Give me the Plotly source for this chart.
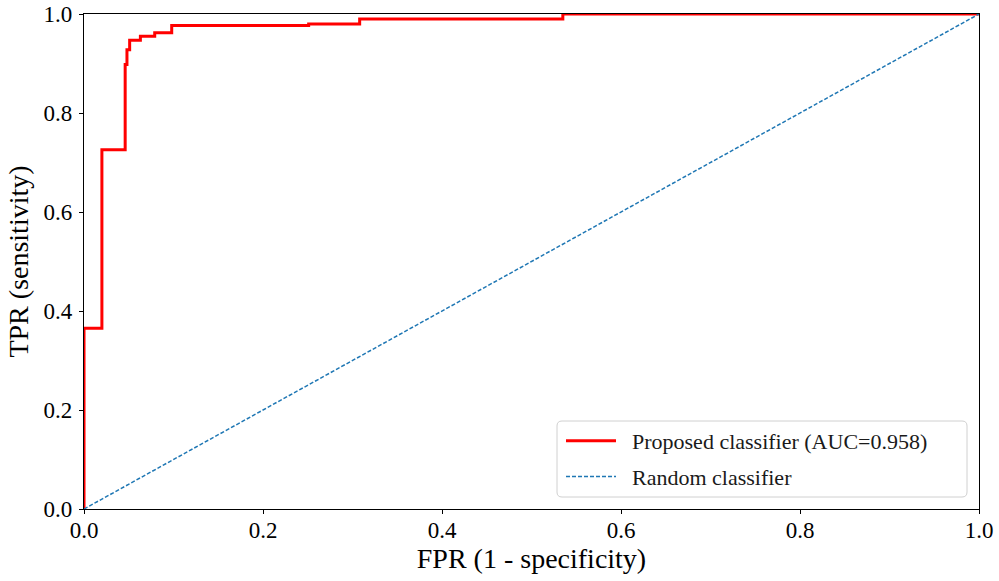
import plotly.graph_objects as go

# ROC curve corner points of the proposed classifier
fpr = [0.0, 0.0, 0.020, 0.020, 0.046, 0.046, 0.048, 0.048, 0.051, 0.051,
       0.063, 0.063, 0.079, 0.079, 0.098, 0.098, 0.251, 0.251, 0.308, 0.308,
       0.535, 0.535, 1.0]
tpr = [0.0, 0.365, 0.365, 0.726, 0.726, 0.898, 0.898, 0.928, 0.928, 0.947,
       0.947, 0.955, 0.955, 0.962, 0.962, 0.977, 0.977, 0.980, 0.980, 0.990,
       0.990, 1.0, 1.0]
auc_label = "Proposed classifier (AUC=0.958)"

# chance diagonal
rand_x = [0.0, 1.0]
rand_y = [0.0, 1.0]

tick_vals = [0.0, 0.2, 0.4, 0.6, 0.8, 1.0]
tick_text = ["0.0", "0.2", "0.4", "0.6", "0.8", "1.0"]

FONT = "Liberation Serif"
W, H = 999, 581
L, R, T, B = 84, 20, 14, 72
PW, PH = W - L - R, H - T - B
PAD = "\u00a0\u00a0"  # spacing between legend sample and label


def px_x(p):
    return (p - L) / PW


def px_y(p):
    return (H - B - p) / PH


fig = go.Figure()
fig.add_trace(go.Scatter(x=fpr, y=tpr, mode="lines", name=PAD + auc_label, legendgroup="a",
                         line=dict(color="#ff0000", width=3)))
fig.add_trace(go.Scatter(x=rand_x, y=rand_y, mode="lines", name=PAD + "Random classifier",
                         legendgroup="b",
                         line=dict(color="#1f77b4", width=1.5, dash="4px,2px")))

axis_common = dict(
    range=[0, 1], tickvals=tick_vals, ticktext=tick_text, automargin=False,
    showgrid=False, zeroline=False, showline=True, linecolor="black", linewidth=1.2,
    mirror=True, ticks="outside", ticklen=4, tickwidth=1, tickcolor="black",
    tickfont=dict(family=FONT, size=23, color="black"),
)

# rounded legend frame
x0, x1 = px_x(557), px_x(967)
y0, y1 = px_y(497), px_y(421)
rx, ry = 5 / PW, 5 / PH
frame = (f"M {x0+rx},{y0} L {x1-rx},{y0} Q {x1},{y0} {x1},{y0+ry} "
         f"L {x1},{y1-ry} Q {x1},{y1} {x1-rx},{y1} L {x0+rx},{y1} "
         f"Q {x0},{y1} {x0},{y1-ry} L {x0},{y0+ry} Q {x0},{y0} {x0+rx},{y0} Z")

fig.update_layout(
    width=W, height=H,
    margin=dict(l=L, r=R, t=T, b=B),
    paper_bgcolor="white", plot_bgcolor="white",
    font=dict(family=FONT, color="black"),
    xaxis=dict(**axis_common, ticklabelstandoff=-4,
               title=dict(text="FPR (1 - specificity)", font=dict(family=FONT, size=28), standoff=2)),
    yaxis=dict(**axis_common, ticklabelstandoff=2,
               title=dict(text="TPR (sensitivity)", font=dict(family=FONT, size=28), standoff=6)),
    legend=dict(x=px_x(561), y=px_y(420), xanchor="left", yanchor="top",
                bgcolor="rgba(0,0,0,0)", borderwidth=0,
                font=dict(family=FONT, size=22, color="#1a1a1a"),
                tracegroupgap=4, itemwidth=50),
    shapes=[dict(type="path", path=frame, xref="paper", yref="paper",
                 fillcolor="rgba(255,255,255,0.8)", line=dict(color="#d0d0d0", width=1),
                 layer="above")],
    showlegend=True,
)

fig.write_html("out.html")
